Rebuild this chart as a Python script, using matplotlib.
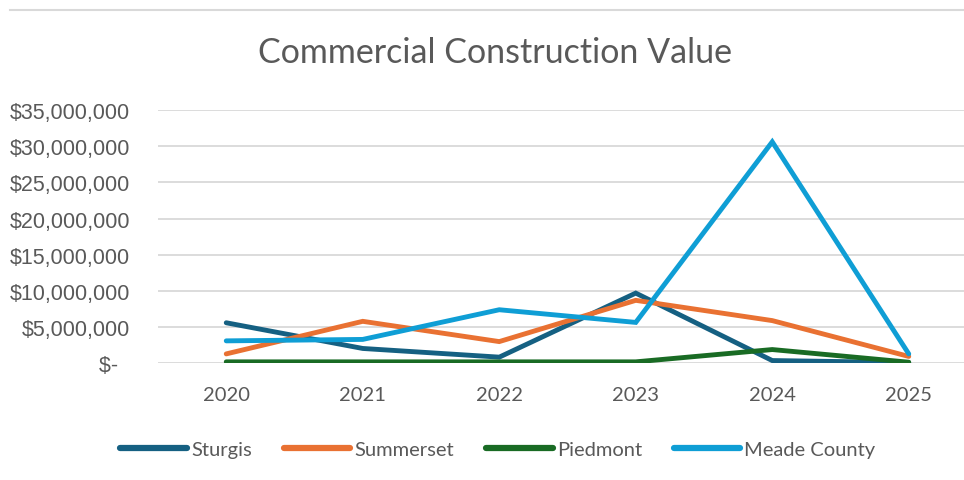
import matplotlib
matplotlib.use("Agg")
import matplotlib.pyplot as plt
from matplotlib.lines import Line2D
from matplotlib.ticker import FuncFormatter

years = ["2020", "2021", "2022", "2023", "2024", "2025"]
sturgis = [5600000, 2050000, 850000, 9700000, 380000, 100000]
summerset = [1300000, 5800000, 3000000, 8700000, 5900000, 950000]
piedmont = [200000, 200000, 200000, 200000, 1900000, 150000]
meade_county = [3100000, 3300000, 7400000, 5650000, 30600000, 1300000]

series_names = ["Sturgis", "Summerset", "Piedmont", "Meade County"]
series_values = [sturgis, summerset, piedmont, meade_county]
colors = ["#156082", "#E97132", "#196B24", "#0F9ED5"]

y_ticks = [0, 5000000, 10000000, 15000000, 20000000, 25000000, 30000000, 35000000]

text_color = "#595959"
narrow = ["Lato", "DejaVu Sans"]

W, H = 964, 481
fig = plt.figure(figsize=(W / 100, H / 100), dpi=100)
ax = fig.add_axes([158 / W, 1 - 364.3 / H, (977 - 158) / W, (364.3 - 111) / H])

x = list(range(len(years)))
for name, vals, c in zip(series_names, series_values, colors):
    ax.plot(x, vals, color=c, lw=3.5, solid_capstyle="round", solid_joinstyle="miter", label=name)

ax.set_xlim(-0.5, len(years) - 0.5)
ax.set_ylim(0, 35000000)
ax.set_yticks(y_ticks)
ax.yaxis.set_major_formatter(FuncFormatter(lambda v, p: "$-  " if v == 0 else "${:,.0f}".format(v)))
ax.set_xticks(x)
ax.set_xticklabels(years, family=narrow, fontsize=14.5, color=text_color)
for lab in ax.get_yticklabels():
    lab.set_family("Liberation Sans")
    lab.set_fontsize(15.5)
    lab.set_color(text_color)
ax.tick_params(axis="y", length=0, pad=20)
ax.tick_params(axis="x", length=0, pad=16)
ax.grid(axis="y", color="#D9D9D9", lw=1.3)
ax.set_axisbelow(True)
for s in ax.spines.values():
    s.set_visible(False)

fig.text(495 / W, 1 - 53 / H, "Commercial Construction Value", ha="center", va="center",
         family=narrow, fontsize=24.5, color=text_color)

fig.add_artist(Line2D([10 / W, 1], [1 - 11 / H, 1 - 11 / H], transform=fig.transFigure,
                      color="#D9D9D9", lw=1.5))

handles = [Line2D([0], [0], color=c, lw=4.5, solid_capstyle="round") for c in colors]
leg = fig.legend(handles, series_names, loc="center", bbox_to_anchor=(498 / W, 1 - 450 / H),
                 ncol=4, frameon=False, handlelength=3.3, handletextpad=0.2, columnspacing=1.6,
                 prop={"family": narrow, "size": 14.5})
for t in leg.get_texts():
    t.set_color(text_color)

fig.savefig("out.png", dpi=100, facecolor="white")
